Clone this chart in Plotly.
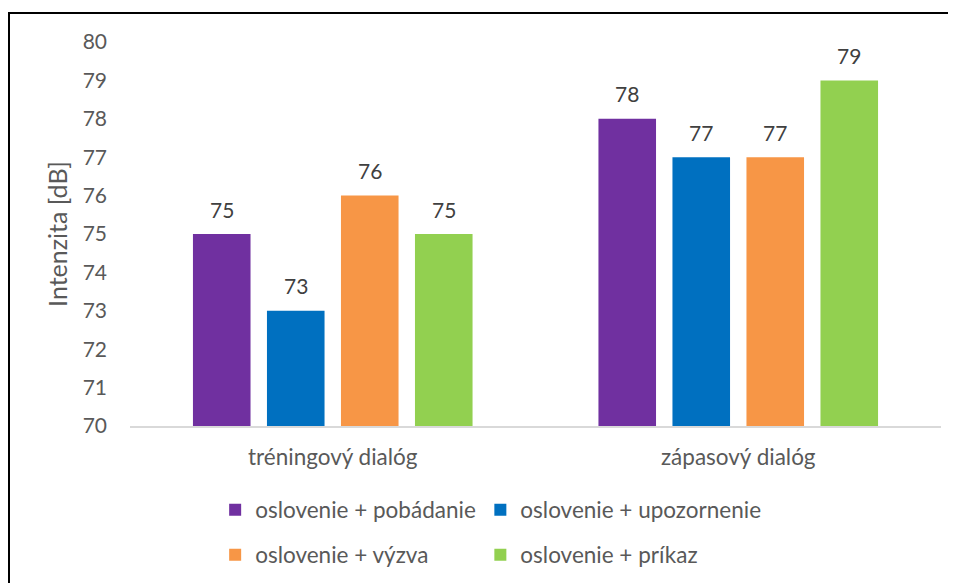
import plotly.graph_objects as go

categories = ["tréningový dialóg", "zápasový dialóg"]
series_names = ["oslovenie + pobádanie", "oslovenie + upozornenie", "oslovenie + výzva", "oslovenie + príkaz"]
pobadanie = [75, 78]
upozornenie = [73, 77]
vyzva = [76, 77]
prikaz = [75, 79]
series_values = [pobadanie, upozornenie, vyzva, prikaz]
colors = ["#7030A0", "#0070C0", "#F79646", "#92D050"]
y_ticks = list(range(70, 81))

FONT = "Lato, 'Open Sans', sans-serif"
TXT = "#595959"

bar_w = 0.142
step = 0.1825
legend_ids = ["legend", "legend2", "legend3", "legend4"]
fig = go.Figure()
annotations = []
for k, (name, vals, col) in enumerate(zip(series_names, series_values, colors)):
    center_off = (k - 1.5) * step
    fig.add_trace(go.Bar(
        x=list(range(len(categories))), y=[v - 70 for v in vals], base=70,
        name=name, marker=dict(color=col, line=dict(width=0)),
        width=bar_w, offset=center_off - bar_w / 2,
        legend=legend_ids[k],
        hovertemplate="%{y}<extra></extra>",
    ))
    for i, v in enumerate(vals):
        annotations.append(dict(
            x=i + center_off, y=v, xref="x", yref="y", text=str(v),
            showarrow=False, yshift=25, yanchor="middle",
            font=dict(family=FONT, size=21, color="#404040"),
        ))

legend_common = dict(orientation="h", xanchor="left", yanchor="middle", itemwidth=30,
                     font=dict(size=22.5, color=TXT, family=FONT), bgcolor="rgba(0,0,0,0)")
col_x = [0.105, 0.432]
row_y = [(418 - 502) / 384, (418 - 547) / 384]

fig.update_layout(
    width=948, height=575,
    margin=dict(l=122, r=15, t=34, b=157, autoexpand=False),
    paper_bgcolor="white", plot_bgcolor="white",
    barmode="overlay",
    font=dict(family=FONT, color=TXT, size=21),
    xaxis=dict(
        tickmode="array", tickvals=list(range(len(categories))), ticktext=categories,
        range=[-0.5, 1.5], showline=True, linecolor="#d9d9d9", linewidth=1.5,
        ticks="", showgrid=False, zeroline=False, ticklabelstandoff=10,
        tickfont=dict(size=22.5, color=TXT, family=FONT),
    ),
    yaxis=dict(
        range=[70, 80], tickvals=y_ticks, showgrid=False, zeroline=False,
        showline=False, ticks="", ticklabelstandoff=22,
        tickfont=dict(size=21, color=TXT, family=FONT),
        title=dict(text="Intenzita [dB]", font=dict(size=25, color=TXT, family=FONT), standoff=7),
    ),
    legend=dict(legend_common, x=col_x[0], y=row_y[0]),
    legend2=dict(legend_common, x=col_x[1], y=row_y[0]),
    legend3=dict(legend_common, x=col_x[0], y=row_y[1]),
    legend4=dict(legend_common, x=col_x[1], y=row_y[1]),
    annotations=annotations,
    showlegend=True,
)
fig.add_shape(type="rect", xref="paper", yref="paper",
              x0=(1 - 122) / 811, x1=1.2, y0=-0.6, y1=(418 - 5) / 384,
              line=dict(color="black", width=2), fillcolor="rgba(0,0,0,0)", layer="above")
fig.write_html("out.html")
